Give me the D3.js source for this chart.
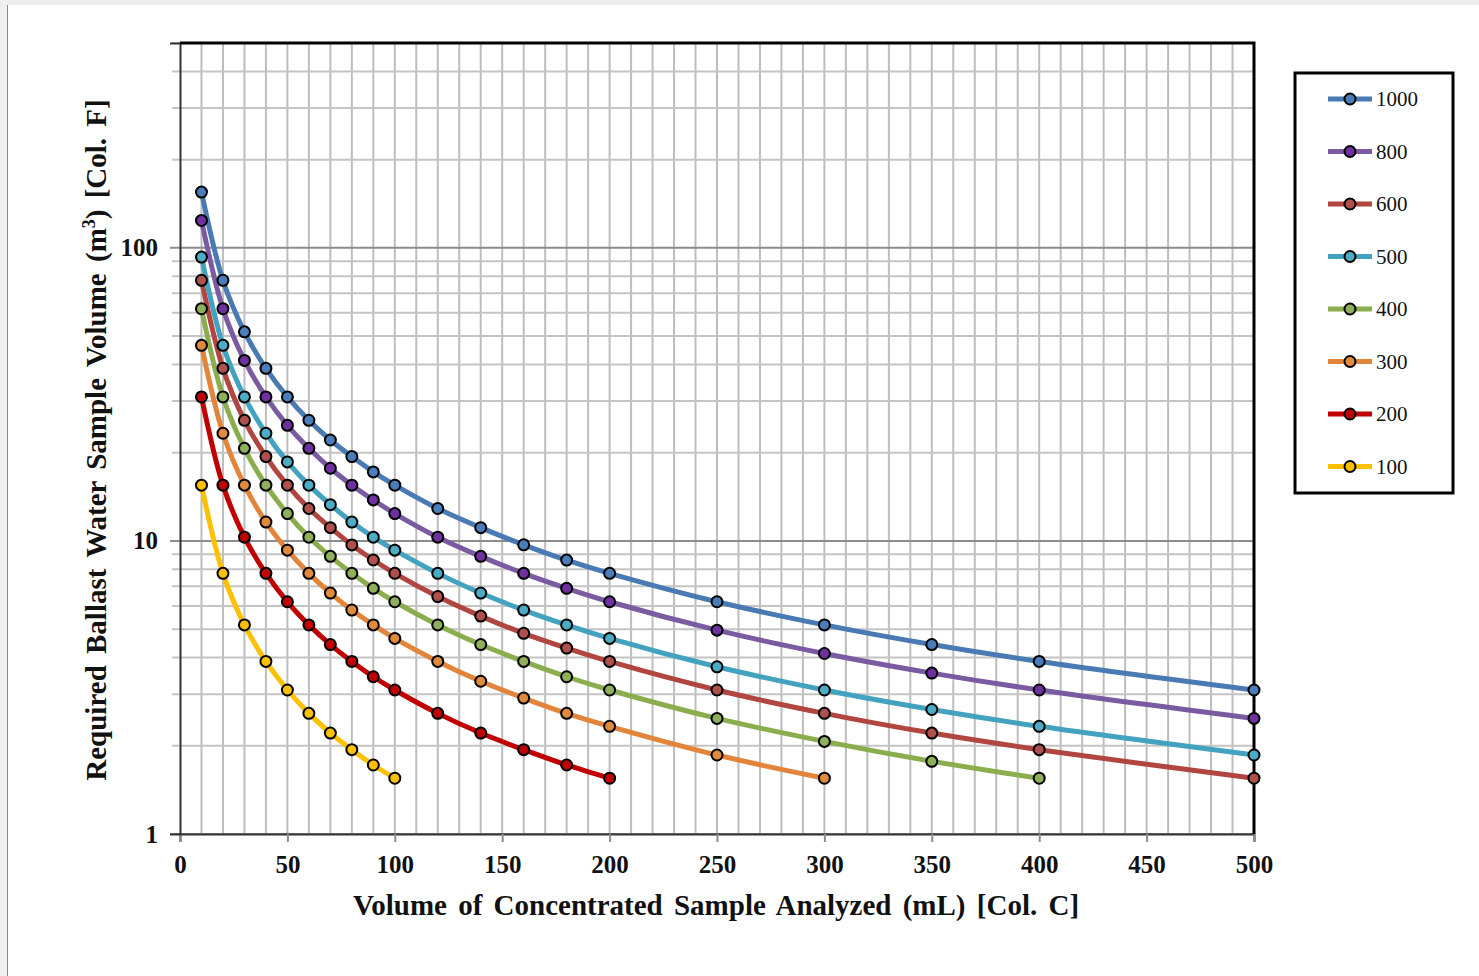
<!DOCTYPE html>
<html>
<head>
<meta charset="utf-8">
<script src="https://cdn.jsdelivr.net/npm/d3@7"></script>
<style>
  body { margin: 0; background: #fff; }
  svg { display: block; }
</style>
</head>
<body>
<svg id="chart" width="1479" height="976"></svg>
<script>
// x positions (mL) where the curves have points
const xVals = [10, 20, 30, 40, 50, 60, 70, 80, 90, 100, 120, 140, 160, 180, 200, 250, 300, 350, 400, 500];

// series values (m3), in legend order
const s1000 = [155, 77.5, 51.7, 38.8, 31, 25.8, 22.1, 19.4, 17.2, 15.5, 12.9, 11.1, 9.7, 8.6, 7.75, 6.2, 5.17, 4.43, 3.88, 3.1];
const s800  = [124, 62, 41.3, 31, 24.8, 20.7, 17.7, 15.5, 13.8, 12.4, 10.3, 8.86, 7.75, 6.89, 6.2, 4.96, 4.13, 3.54, 3.1, 2.48];
const s600  = [77.5, 38.8, 25.8, 19.4, 15.5, 12.9, 11.1, 9.69, 8.61, 7.75, 6.46, 5.54, 4.84, 4.31, 3.88, 3.1, 2.58, 2.21, 1.94, 1.55];
const s500  = [93, 46.5, 31, 23.3, 18.6, 15.5, 13.3, 11.6, 10.3, 9.3, 7.75, 6.64, 5.81, 5.17, 4.65, 3.72, 3.1, 2.66, 2.33, 1.86];
const s400  = [62, 31, 20.7, 15.5, 12.4, 10.3, 8.86, 7.75, 6.89, 6.2, 5.17, 4.43, 3.88, 3.44, 3.1, 2.48, 2.07, 1.77, 1.55];
const s300  = [46.5, 23.3, 15.5, 11.6, 9.3, 7.75, 6.64, 5.81, 5.17, 4.65, 3.88, 3.32, 2.91, 2.58, 2.33, 1.86, 1.55];
const s200  = [31, 15.5, 10.3, 7.75, 6.2, 5.17, 4.43, 3.88, 3.44, 3.1, 2.58, 2.21, 1.94, 1.72, 1.55];
const s100  = [15.5, 7.75, 5.17, 3.88, 3.1, 2.58, 2.21, 1.94, 1.72, 1.55];

const seriesNames = ["1000", "800", "600", "500", "400", "300", "200", "100"];
const seriesData = [s1000, s800, s600, s500, s400, s300, s200, s100];
const lineColors = ["#4a7ab4", "#7a5aa0", "#b0463f", "#43a2bf", "#8aae4d", "#e2853a", "#c00000", "#ffc000"];
const dotColors  = ["#4a7ebb", "#7030a0", "#b0504d", "#4bacc6", "#8fb05a", "#e08a3c", "#c00000", "#ffc000"];

const xTicks = [0, 50, 100, 150, 200, 250, 300, 350, 400, 450, 500];
const yTicks = [1, 10, 100];

const FONT = "'Liberation Serif', 'Times New Roman', serif";

const svg = d3.select("#chart");

// page frame (grey strips at top and left)
svg.append("rect").attr("x", 0).attr("y", 0).attr("width", 1479).attr("height", 5).attr("fill", "#eeeeee");
svg.append("rect").attr("x", 0).attr("y", 0).attr("width", 7).attr("height", 976).attr("fill", "#f0f0f0");
svg.append("line").attr("x1", 7.5).attr("x2", 7.5).attr("y1", 5).attr("y2", 976).attr("stroke", "#8a8a8a").attr("stroke-width", 1);

const plotL = 180, plotR = 1254, plotT = 43, plotB = 834;

const x = d3.scaleLinear().domain([0, 500]).range([plotL, plotR]);
const y = d3.scaleLog().domain([1, 500]).range([plotB, plotT]);

// grid
const minorY = [];
[1, 10, 100].forEach(d => { for (let k = 2; k <= 9; k++) if (d * k <= 500) minorY.push(d * k); });
const grid = svg.append("g");
grid.selectAll("line.vx").data(d3.range(10, 500, 10)).join("line")
  .attr("x1", d => x(d)).attr("x2", d => x(d))
  .attr("y1", plotT).attr("y2", plotB)
  .attr("stroke", "#bdbdbd").attr("stroke-width", 2);
grid.selectAll("line.hy").data(minorY).join("line")
  .attr("x1", plotL - 8).attr("x2", plotR)
  .attr("y1", d => y(d)).attr("y2", d => y(d))
  .attr("stroke", "#c4c4c4").attr("stroke-width", 2);
grid.selectAll("line.hmaj").data(yTicks).join("line")
  .attr("x1", plotL - 10).attr("x2", plotR)
  .attr("y1", d => y(d)).attr("y2", d => y(d))
  .attr("stroke", "#8c8c8c").attr("stroke-width", 2);

// axes
const xAxis = svg.append("g").attr("transform", `translate(0,${plotB})`)
  .call(d3.axisBottom(x).tickValues(xTicks).tickSize(8).tickPadding(13).tickFormat(d3.format("d")));
xAxis.select(".domain").attr("stroke", "#333").attr("stroke-width", 2);
xAxis.selectAll(".tick line").attr("stroke", "#8c8c8c").attr("stroke-width", 2);
xAxis.selectAll("text").attr("font-family", FONT)
  .attr("font-weight", "bold").attr("font-size", 25).attr("fill", "#111");

const yAxis = svg.append("g").attr("transform", `translate(${plotL},0)`)
  .call(d3.axisLeft(y).tickValues(yTicks).tickSize(10).tickPadding(12).tickFormat(d3.format("d")));
yAxis.select(".domain").attr("stroke", "#333").attr("stroke-width", 2);
yAxis.selectAll(".tick line").remove();
yAxis.selectAll("text").attr("font-family", FONT)
  .attr("font-weight", "bold").attr("font-size", 25).attr("fill", "#111");

// top and right border
svg.append("path")
  .attr("d", `M${plotL},${plotT} H${plotR} V${plotB}`)
  .attr("fill", "none").attr("stroke", "#000").attr("stroke-width", 3);

// curves
const line = d3.line()
  .x(d => x(d[0])).y(d => y(d[1]))
  .curve(d3.curveCatmullRom.alpha(0.5));

const plot = svg.append("g");
seriesData.forEach((vals, i) => {
  const pts = vals.map((v, j) => [xVals[j], v]);
  plot.append("path").datum(pts)
    .attr("d", line)
    .attr("fill", "none")
    .attr("stroke", lineColors[i])
    .attr("stroke-width", 5);
});
seriesData.forEach((vals, i) => {
  const pts = vals.map((v, j) => [xVals[j], v]);
  plot.selectAll(null).data(pts).join("circle")
    .attr("cx", d => x(d[0])).attr("cy", d => y(d[1]))
    .attr("r", 5.5)
    .attr("fill", dotColors[i])
    .attr("stroke", "#000").attr("stroke-width", 2);
});

// axis titles
svg.append("text")
  .attr("x", 716).attr("y", 915)
  .attr("text-anchor", "middle")
  .attr("font-family", FONT)
  .attr("font-weight", "bold").attr("font-size", 29).attr("fill", "#111")
  .attr("word-spacing", 4)
  .text("Volume of Concentrated Sample Analyzed (mL) [Col. C]");

const yt = svg.append("text")
  .attr("transform", `translate(106,440) rotate(-90)`)
  .attr("text-anchor", "middle")
  .attr("font-family", FONT)
  .attr("font-weight", "bold").attr("font-size", 29).attr("fill", "#111")
  .attr("word-spacing", 4);
yt.append("tspan").text("Required Ballast Water Sample Volume (m");
yt.append("tspan").attr("font-size", 18).attr("dy", -11).text("3");
yt.append("tspan").attr("dy", 11).text(") [Col. F]");

// legend
const lg = svg.append("g");
lg.append("rect").attr("x", 1295).attr("y", 73).attr("width", 158).attr("height", 420)
  .attr("fill", "#fff").attr("stroke", "#000").attr("stroke-width", 3);
seriesNames.forEach((name, i) => {
  const ly = 99 + i * 52.5;
  lg.append("line").attr("x1", 1328).attr("x2", 1372).attr("y1", ly).attr("y2", ly)
    .attr("stroke", lineColors[i]).attr("stroke-width", 5);
  lg.append("circle").attr("cx", 1350).attr("cy", ly).attr("r", 5.5)
    .attr("fill", dotColors[i]).attr("stroke", "#000").attr("stroke-width", 2);
  lg.append("text").attr("x", 1376).attr("y", ly + 7)
    .attr("font-family", FONT)
    .attr("font-size", 21).attr("fill", "#111")
    .text(name);
});
</script>
</body>
</html>
